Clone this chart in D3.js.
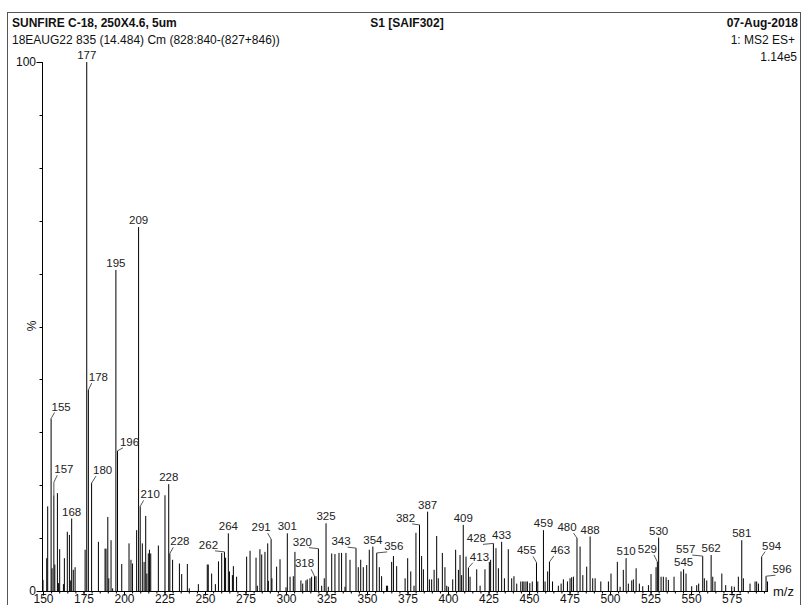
<!DOCTYPE html>
<html>
<head>
<meta charset="utf-8">
<script src="https://cdn.jsdelivr.net/npm/d3@7"></script>
<style>
  html, body { margin: 0; padding: 0; background: #fff; overflow: hidden; }
  svg { display: block; font-family: "Liberation Sans", Arial, sans-serif; }
</style>
</head>
<body>
<svg id="chart" width="803" height="605"></svg>
<script>
// Spectre MS2 - pics [m/z, % intensité]
const peaks = [
  [150,2.1],[152.3,6.2],[152.9,16],[155,32.6],[155.6,4.3],[156.7,18.1],[157.3,5],[158.9,18.5],
  [159.5,1.5],[160.3,7.9],[162.6,1.3],[163.2,6.2],[165,11.2],[166.3,10.6],[167.1,2],[167.7,13.7],
  [168.7,4],[169.8,4.5],[176,7.8],[177,100],[178,38],[180,20.4],[184.2,9.3],[188.3,8],[188.9,8],
  [190,14],[190.6,2.4],[192,9.6],[193,0.5],[195,60.7],[196,26.5],[198.6,5.1],[203.1,9],[204.3,5.9],
  [205.2,5.2],[207.8,11.5],[209,68.8],[210,16],[211.3,9],[212.4,5.5],[213.4,14.2],[214.1,3.3],
  [215,7.1],[215.7,7.8],[216.5,7.1],[221.2,8.6],[225.3,18.1],[227.6,20.2],[228.3,7.1],[230,5.9],
  [234.2,5.2],[235.6,3.2],[239.1,5.1],[240.3,0.5],[245.9,1.3],[251.4,5],[252,5],[254.1,3.3],
  [256.4,1.3],[258.3,5.6],[260.3,7.2],[262,7.4],[262.7,6.3],[264.4,10.9],[265.1,3.7],[266.9,3],
  [267.5,4.7],[269.5,2.7],[275.7,6.5],[277.8,7.6],[281.5,6.3],[282.3,1],[283.9,7.9],[285,6.9],
  [287,7.4],[288.7,9],[289.1,1.9],[290.8,9.8],[291.3,2.4],[294.2,4.6],[296.3,6],[300,0.7],
  [300.8,10.9],[302.5,2.7],[304.5,2.8],[305.5,7.4],[309.2,2],[310.3,1.4],[312.3,2],[313.1,2.2],
  [314.8,2.4],[315.8,2.7],[317.6,2.8],[318.5,2.8],[320,8],[322,1],[323.6,2.4],[324.7,12.8],
  [326.1,0.8],[328.2,7.1],[330.2,7],[332.7,7.2],[334.3,7.2],[336.4,0.8],[337,7.2],[339.5,5.9],
  [343.2,8.1],[344.6,4.5],[346.1,5.9],[347.7,4.5],[349.8,4.9],[351.4,7.8],[353.6,8.4],[356,7.2],
  [357.6,4.5],[359,2.8],[362,1],[362.7,1],[365.2,5.5],[366.3,6.6],[368.3,4.7],[373.5,2.4],
  [375.1,6.2],[377,3.7],[379,1],[380.2,11],[382.4,12.5],[383.7,6.6],[384.8,4.1],[387.4,15],
  [388.5,2.2],[389.9,2.2],[391.4,4],[393,10.4],[394,2.4],[396.5,7.2],[398.1,4.5],[399.2,1],
  [400.2,0.8],[402.9,2.2],[404.7,7.8],[406.4,4],[407.4,6.8],[408.4,3],[409.4,12.5],[411.1,6.5],
  [412.6,4.4],[413.6,2.7],[417.7,4.1],[419.8,1],[422.8,4.1],[425.5,5.5],[426.3,5.9],[428,9],
  [429.6,8.1],[431.1,4.3],[433.1,9.3],[434.8,2.4],[437.2,7.9],[439.3,2.4],[440.7,2.8],[442.4,1.4],
  [444.9,1.8],[446.1,1.8],[446.9,1.8],[448.1,1.8],[449,1.8],[450.5,1.5],[452,1.8],[454.6,5.4],
  [455.4,1.8],[458.9,11.5],[459.9,1.8],[461.5,3.7],[462.6,5.5],[464.5,1.8],[468.1,1],[469.8,1.4],
  [471.2,2.2],[473.7,1.8],[475.3,2.4],[476.3,2.6],[477.4,2.7],[479.6,10],[481.5,8.4],[483.2,3],
  [485.6,4.6],[487.7,10.3],[489.3,2.4],[490.8,2.4],[494.3,1.8],[499,1.8],[500.6,3.3],[504.5,5.5],
  [506.2,0.8],[508.2,4],[509.9,6.2],[511.3,1.4],[513.4,2],[514.4,2.2],[516.1,4.3],[518.1,1.4],
  [520.2,0.9],[523.7,1.1],[525.3,3.2],[528.4,4.5],[529.2,5.5],[530,10.1],[531.5,2.7],[532.9,2.7],
  [534.6,2.6],[536,2.1],[539.5,2.7],[543.8,3.7],[545.4,4.1],[546.9,3.3],[550.4,0.9],[553.5,1.1],
  [554.7,1.4],[557.2,6.6],[558.2,2.4],[559.7,2],[562.4,6.8],[563.4,2.7],[564.8,1.8],[569,3.3],
  [571.4,1.1],[575.1,0.9],[576.7,0.8],[579.2,2.7],[581.3,9.6],[582.3,2.4],[586.4,1.4],[589.5,1.8],
  [590.5,1.8],[591.6,1.4],[593.6,6.5],[596.3,2.8],[597.2,1.8]
];

// pics étiquetés (texte = m/z arrondi)
const labelledMz = [
  155, 156.7, 167.7, 177, 178, 180, 195, 196, 209, 210, 227.6, 228.3, 262, 264.4,
  290.8, 300.8, 317.6, 320, 324.7, 343.2, 353.6, 356, 382.4, 387.4, 409.4, 412.6,
  428, 433.1, 454.6, 458.9, 462.6, 479.6, 487.7, 509.9, 529.2, 530, 545.4, 557.2,
  562.4, 581.3, 593.6, 596.3
];

const xTickValues = [150, 175, 200, 225, 250, 275, 300, 325, 350, 375, 400, 425, 450, 475, 500, 525, 550, 575];
const yTickValues = [0, 10, 20, 30, 40, 50, 60, 70, 80, 90, 100];

const headerLeft = ['SUNFIRE C-18, 250X4.6, 5um', '18EAUG22 835 (14.484) Cm (828:840-(827+846))'];
const headerCenter = 'S1 [SAIF302]';
const headerRight = ['07-Aug-2018', '1: MS2 ES+', '1.14e5'];

// décalages des étiquettes (px) quand elles se chevauchent
const labelShift = {
  '155': [10, -5], '156.7': [10, -19], '178': [10, -6], '180': [11, -6], '196': [12, -2],
  '210': [10, -5], '228.3': [10, -5], '262': [-16, 0], '290.8': [-10, -5], '317.6': [-10, -6],
  '320': [-16, 0], '343.2': [-15, 0], '356': [17, 0], '382.4': [-14, 0], '412.6': [11, -4],
  '428': [-17, 2], '454.6': [-10, -5], '462.6': [11, -5], '479.6': [-10, -4], '529.2': [-10, -6],
  '557.2': [-17, 0], '593.6': [10, -4], '596.3': [16, 0]
};

const svg = d3.select('#chart');

const x = d3.scaleLinear().domain([150, 597.5]).range([43, 768]);
const y = d3.scaleLinear().domain([0, 100]).range([591, 62]);

// Cadre
svg.append('rect')
  .attr('x', 7.5).attr('y', 12.5)
  .attr('width', 793).attr('height', 600)
  .attr('fill', 'none')
  .attr('stroke', '#555')
  .attr('stroke-width', 1);

// En-tête
svg.append('text').attr('x', 12).attr('y', 27)
  .attr('font-size', '12px').attr('font-weight', 'bold').attr('fill', '#111')
  .text(headerLeft[0]);
svg.append('text').attr('x', 12).attr('y', 44)
  .attr('font-size', '12px').attr('fill', '#111')
  .text(headerLeft[1]);
svg.append('text').attr('x', 407).attr('y', 27)
  .attr('text-anchor', 'middle')
  .attr('font-size', '12px').attr('font-weight', 'bold').attr('fill', '#111')
  .text(headerCenter);
svg.append('text').attr('x', 798).attr('y', 27)
  .attr('text-anchor', 'end')
  .attr('font-size', '12px').attr('font-weight', 'bold').attr('fill', '#111')
  .text(headerRight[0]);
svg.append('text').attr('x', 795).attr('y', 44)
  .attr('text-anchor', 'end')
  .attr('font-size', '12px').attr('fill', '#111')
  .text(headerRight[1]);
svg.append('text').attr('x', 797).attr('y', 61)
  .attr('text-anchor', 'end')
  .attr('font-size', '12px').attr('fill', '#111')
  .text(headerRight[2]);

// Pics
svg.append('g')
  .selectAll('line')
  .data(peaks)
  .join('line')
  .attr('x1', d => x(d[0]))
  .attr('x2', d => x(d[0]))
  .attr('y1', y(0))
  .attr('y2', d => y(d[1]))
  .attr('stroke', '#000')
  .attr('stroke-width', 1);

// Axe X
svg.append('line')
  .attr('x1', 42).attr('x2', 768)
  .attr('y1', 591.5).attr('y2', 591.5)
  .attr('stroke', '#000');

const minorX = d3.range(150, 598, 5);
svg.append('g')
  .attr('transform', 'translate(0,591.5)')
  .call(d3.axisBottom(x).tickValues(minorX).tickSize(2).tickSizeOuter(0).tickFormat(''))
  .call(g => g.select('.domain').remove());

svg.append('g')
  .attr('transform', 'translate(0,591.5)')
  .call(d3.axisBottom(x).tickValues(xTickValues).tickSize(4).tickSizeOuter(0))
  .call(g => g.select('.domain').remove())
  .call(g => g.selectAll('text')
    .attr('y', 11)
    .attr('dy', null)
    .attr('font-size', '12px')
    .attr('font-family', '"Liberation Sans", Arial, sans-serif')
    .attr('fill', '#111'));

svg.append('text')
  .attr('x', 773).attr('y', 596)
  .attr('font-size', '13px').attr('fill', '#111')
  .text('m/z');

// Axe Y
svg.append('line')
  .attr('x1', 42.5).attr('x2', 42.5)
  .attr('y1', y(100)).attr('y2', y(0) + 1)
  .attr('stroke', '#000');

svg.append('g')
  .selectAll('line')
  .data(yTickValues)
  .join('line')
  .attr('x1', d => (d === 0 || d === 100) ? 36.5 : 39.5)
  .attr('x2', 42.5)
  .attr('y1', d => Math.round(y(d)) + 0.5)
  .attr('y2', d => Math.round(y(d)) + 0.5)
  .attr('stroke', '#000');

svg.append('g')
  .selectAll('text')
  .data([0, 100])
  .join('text')
  .attr('x', 36)
  .attr('y', d => y(d))
  .attr('dy', '0.35em')
  .attr('text-anchor', 'end')
  .attr('font-size', '12px')
  .attr('fill', '#111')
  .text(d => d);

svg.append('text')
  .attr('transform', 'translate(36,326) rotate(-90)')
  .attr('text-anchor', 'middle')
  .attr('font-size', '12px')
  .attr('fill', '#111')
  .text('%');

// Étiquettes des pics
const peakByMz = new Map(peaks.map(p => [p[0], p[1]]));
const labelG = svg.append('g');

labelledMz.forEach(m => {
  const pct = peakByMz.get(m);
  if (pct === undefined) return;
  const px = x(m);
  const py = y(pct);
  const shift = labelShift[String(m)] || [0, 0];
  const lx = px + shift[0];
  const by = py - 3 + shift[1];

  const t = labelG.append('text')
    .attr('x', lx)
    .attr('y', by)
    .attr('text-anchor', 'middle')
    .attr('font-size', '11.5px')
    .attr('fill', '#222')
    .text(Math.round(m));

  if (shift[0] !== 0 || shift[1] !== 0) {
    const w = t.node().getComputedTextLength();
    const ax = shift[0] > 0 ? lx - w / 2 + 3 : lx + w / 2 - 3;
    const ay = by + 2;
    const yMid = Math.min(py, ay + 7);
    labelG.append('path')
      .attr('d', `M ${px} ${py} V ${yMid} L ${ax} ${ay}`)
      .attr('fill', 'none')
      .attr('stroke', '#555')
      .attr('stroke-width', 1);
  }
});
</script>
</body>
</html>
